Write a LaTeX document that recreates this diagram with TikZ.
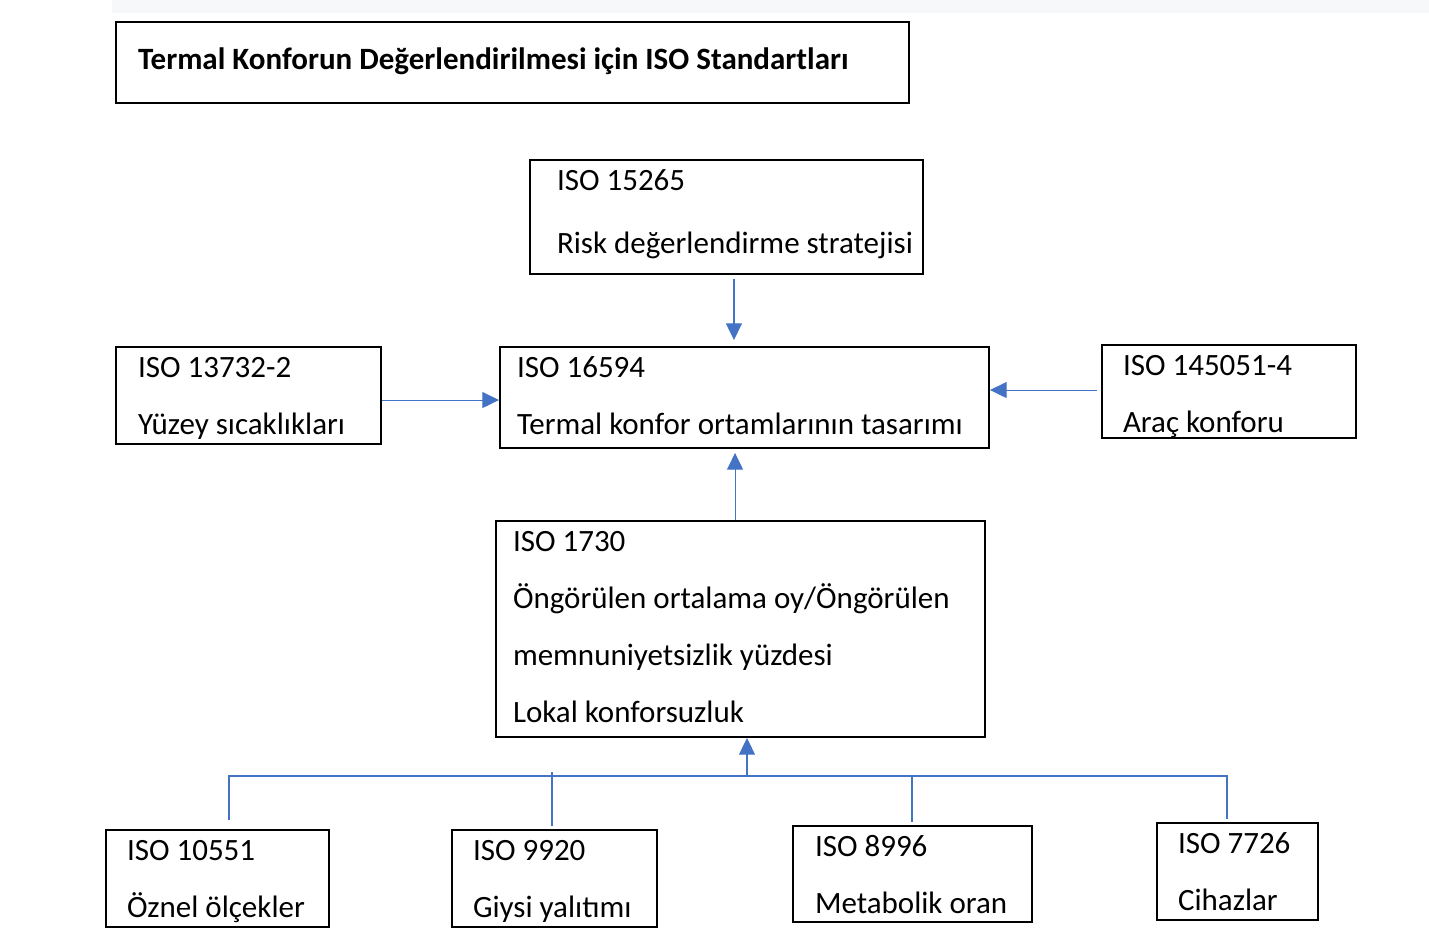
\documentclass[tikz,border=0pt]{standalone}
\usepackage{fontspec}
\setmainfont{Carlito}
\usetikzlibrary{positioning,arrows.meta}
\definecolor{linkblue}{RGB}{68,114,196}
\definecolor{stripgrey}{RGB}{247,248,250}

\begin{document}
\begin{tikzpicture}[x=0.75pt, y=-0.75pt,
  box/.style={draw, line width=1.5pt, align=flush left, inner ysep=0pt, text height=23pt, font=\fontsize{23.25}{42.75}\selectfont},
  link/.style={draw=linkblue, line width=0.8pt},
  arr/.style={link, -{Triangle[length=12.5pt,width=12pt]}}]
\useasboundingbox (0,0) rectangle (1429,949);
\fill[stripgrey] (112,0) rectangle (1429,13);

\node (T) [box, text width=561.75pt, inner xsep=16.5pt, text height=35.5pt, text depth=25.25pt] at (512.5,62.5) {\textbf{Termal Konforun Değerlendirilmesi için ISO Standartları}};
\node (s15265) [box, text width=254.25pt, inner xsep=20.25pt, text depth=62.5pt, font=\fontsize{23.25}{47.25}\selectfont] at (726.5,217) {ISO 15265\\\mbox{Risk değerlendirme stratejisi}};
\node (s16594) [box, text width=341.25pt, inner xsep=12.75pt, text depth=52.75pt] at (744.5,397.5) {ISO 16594\\\mbox{Termal konfor ortamlarının tasarımı}};
\node (s13732) [box, text width=165.75pt, inner xsep=16.5pt, text depth=49.75pt] at (248.5,395.5) {ISO 13732-2\\Yüzey sıcaklıkları};
\node (s145051) [box, text width=159pt, inner xsep=15.75pt, text depth=46.75pt] at (1229,391.5) {ISO 145051-4\\Araç konforu};
\node (s1730) [box, text width=341.25pt, inner xsep=12.75pt, text depth=139pt] at (740.5,629) {ISO 1730\\Öngörülen ortalama oy/Öngörülen\\memnuniyetsizlik yüzdesi\\Lokal konforsuzluk};
\node (s10551) [box, text width=135.75pt, inner xsep=15.75pt, text depth=49.75pt] at (217.5,878.5) {ISO 10551\\\mbox{Öznel ölçekler}};
\node (s9920) [box, text width=122.25pt, inner xsep=15.75pt, text depth=49.75pt] at (554.5,878.5) {ISO 9920\\\mbox{Giysi yalıtımı}};
\node (s8996) [box, text width=146.25pt, inner xsep=16.5pt, text depth=49pt] at (912.5,874) {ISO 8996\\\mbox{Metabolik oran}};
\node (s7726) [box, text width=89.25pt, inner xsep=15.75pt, text depth=49.75pt] at (1237.5,871.5) {ISO 7726\\Cihazlar};

% arrows into ISO 16594
\draw[arr] ([xshift=5.6pt,yshift=-3pt]s15265.south) -- ([xshift=-7.9pt,yshift=4.5pt]s16594.north);
\draw[arr] ([yshift=-3.4pt]s13732.east) -- ([yshift=-1.9pt]s16594.west);
\draw[arr] ([xshift=-3pt,yshift=1.1pt]s145051.west) -- ([yshift=5.6pt]s16594.east);
\draw[arr] ([xshift=-4.1pt]s1730.north) -- ([xshift=-7.1pt,yshift=-3pt]s16594.south);

% tree under ISO 1730
\coordinate (J) at (747,776);
\coordinate (railL) at (229,776);
\coordinate (railR) at (1227,776);
\coordinate (tick9920) at (552,772);
\coordinate (tick8996) at (912,775);
\draw[link, shorten <=6.75pt, shorten >=2.25pt] (railL |- s10551.north) -- (railL) -- (railR) -- (railR |- s7726.north);
\draw[link, shorten <=2.25pt] (tick9920 |- s9920.north) -- (tick9920);
\draw[link, shorten <=2.25pt] (tick8996 |- s8996.north) -- (tick8996);
\draw[arr] (J) -- (J |- s1730.south);
\end{tikzpicture}
\end{document}
